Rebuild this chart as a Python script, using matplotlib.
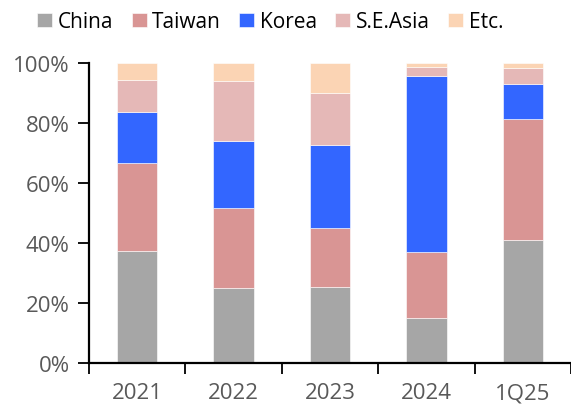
import numpy as np
import matplotlib
matplotlib.use("Agg")
import matplotlib.pyplot as plt
from matplotlib.ticker import PercentFormatter

# share of each region (%)
years = ["2021", "2022", "2023", "2024", "1Q25"]
china = [37.2, 24.9, 25.3, 15.0, 41.0]
taiwan = [29.4, 26.8, 19.7, 22.0, 40.4]
korea = [17.0, 22.4, 27.6, 58.8, 11.6]
se_asia = [10.7, 20.0, 17.4, 3.0, 5.4]
etc = [5.7, 5.9, 10.0, 1.2, 1.6]

series = [("China", china, "#A6A6A6"),
          ("Taiwan", taiwan, "#D99594"),
          ("Korea", korea, "#3366FF"),
          ("S.E.Asia", se_asia, "#E5B8B7"),
          ("Etc.", etc, "#FBD4B4")]

plt.rcParams['font.family'] = ['Open Sans', 'DejaVu Sans']

fig = plt.figure(figsize=(5.71, 4.14), dpi=100)
ax = fig.add_axes([89 / 571, 50 / 414, 482 / 571, 300 / 414])

x = np.arange(len(years))
bottom = np.zeros(len(years))
for name, vals, col in series:
    vals = np.array(vals)
    ax.bar(x, vals, width=0.42, bottom=bottom, color=col, label=name,
           edgecolor="white", linewidth=0.4)
    bottom += vals

ax.set_xlim(-0.5, 4.5)
ax.set_ylim(0, 100)
ax.set_yticks([0, 20, 40, 60, 80, 100])
ax.yaxis.set_major_formatter(PercentFormatter(decimals=0))
ax.set_xticks(x)
ax.set_xticklabels(years)
ax.set_xticks(np.arange(-0.5, 5, 1), minor=True)
ax.tick_params(axis="x", which="major", length=0, pad=14, labelsize=16, labelcolor="#595959")
ax.tick_params(axis="x", which="minor", length=8, width=1.3, direction="out", color="black")
ax.tick_params(axis="y", length=8, width=1.3, labelsize=16, labelcolor="#595959", pad=6)

for s in ["top", "right"]:
    ax.spines[s].set_visible(False)
for s in ["left", "bottom"]:
    ax.spines[s].set_linewidth(1.6)

fig.legend(loc="center", bbox_to_anchor=(0.473, 0.945), ncol=5, frameon=False,
           fontsize=15, handlelength=0.72, handleheight=0.72, handletextpad=0.25,
           columnspacing=0.9)

fig.savefig("out.png", dpi=100)
